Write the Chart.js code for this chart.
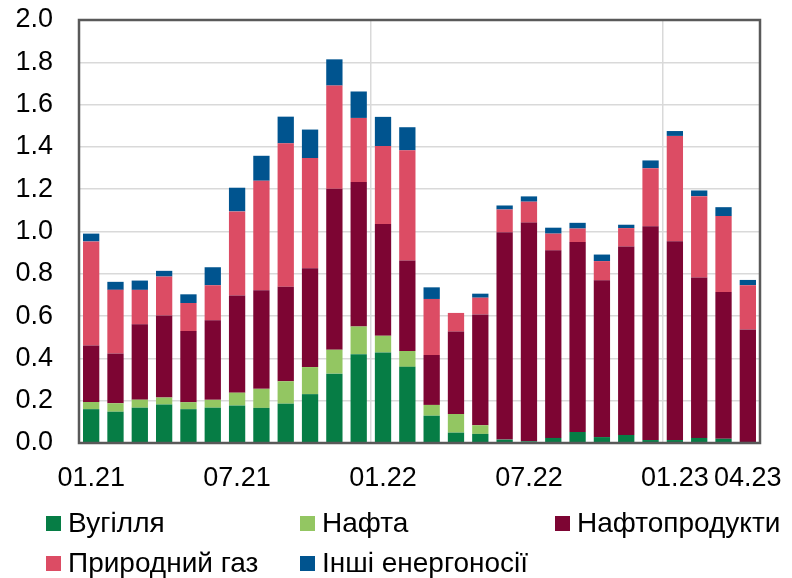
<!DOCTYPE html>
<html>
<head>
<meta charset="utf-8">
<script src="https://cdn.jsdelivr.net/npm/chart.js@4/dist/chart.umd.min.js"></script>
<style>
  body { margin: 0; background: #fff; }
  #wrap { position: relative; width: 792px; height: 578px; }
  .leg { position: absolute; display: flex; align-items: center; height: 30px;
         font-family: "Liberation Sans", Arial, sans-serif; font-size: 28px; color: #000; white-space: nowrap; }
  .leg span.box { display: inline-block; width: 15px; height: 15px; margin-right: 7px; }
</style>
</head>
<body>
<div id="wrap">
  <canvas id="chart" width="792" height="578"></canvas>
  <div id="legend"></div>
</div>
<script>
const months = [
  "01.21", "02.21", "03.21", "04.21", "05.21", "06.21", "07.21", "08.21", "09.21", "10.21", "11.21", "12.21",
  "01.22", "02.22", "03.22", "04.22", "05.22", "06.22", "07.22", "08.22", "09.22", "10.22", "11.22", "12.22",
  "01.23", "02.23", "03.23", "04.23"
];
const shownTicks = ["01.21", "07.21", "01.22", "07.22", "01.23", "04.23"];
const yearStarts = ["01.22", "01.23"];

const coal = [0.160, 0.148, 0.167, 0.182, 0.160, 0.167, 0.177, 0.166, 0.186, 0.231, 0.328, 0.420,
  0.428, 0.360, 0.129, 0.049, 0.043, 0.016, 0.008, 0.024, 0.052, 0.028, 0.038, 0.014,
  0.014, 0.024, 0.020, 0.005];
const oil = [0.034, 0.040, 0.038, 0.033, 0.033, 0.037, 0.061, 0.090, 0.106, 0.128, 0.113, 0.131,
  0.079, 0.075, 0.051, 0.088, 0.041, 0, 0, 0, 0, 0, 0, 0,
  0, 0, 0, 0];
const oilProducts = [0.267, 0.235, 0.356, 0.388, 0.336, 0.376, 0.459, 0.466, 0.447, 0.467, 0.761, 0.683,
  0.528, 0.428, 0.236, 0.390, 0.524, 0.981, 1.034, 0.887, 0.898, 0.741, 0.891, 1.011,
  0.940, 0.759, 0.694, 0.532];
const gas = [0.492, 0.301, 0.163, 0.184, 0.133, 0.166, 0.398, 0.518, 0.678, 0.521, 0.488, 0.303,
  0.369, 0.521, 0.265, 0.088, 0.079, 0.107, 0.099, 0.079, 0.064, 0.091, 0.087, 0.274,
  0.498, 0.384, 0.359, 0.209];
const other = [0.037, 0.038, 0.044, 0.027, 0.041, 0.085, 0.112, 0.118, 0.126, 0.135, 0.124, 0.125,
  0.138, 0.109, 0.055, 0, 0.019, 0.019, 0.025, 0.028, 0.027, 0.031, 0.016, 0.037,
  0.023, 0.027, 0.042, 0.025];

const seriesNames = ["Вугілля", "Нафта", "Нафтопродукти", "Природний газ", "Інші енергоносії"];
const seriesColors = ["#067d45", "#93c662", "#7d0533", "#dc4c64", "#00548f"];
const seriesData = [coal, oil, oilProducts, gas, other];

const FONT = "'Liberation Sans', Arial, sans-serif";
const GRID = "#d9d9d9";
const FRAME = "#595959";

const framePlugin = {
  id: "frame",
  afterDraw(chart) {
    const a = chart.chartArea;
    const ctx = chart.ctx;
    ctx.save();
    ctx.strokeStyle = FRAME;
    ctx.lineWidth = 2.5;
    ctx.strokeRect(a.left, a.top, a.right - a.left, a.bottom - a.top);
    ctx.restore();
  }
};

const config = {
  type: "bar",
  data: {
    labels: months,
    datasets: seriesNames.map((name, i) => ({
      label: name,
      data: seriesData[i],
      backgroundColor: seriesColors[i],
      borderWidth: 0,
      barPercentage: 0.67,
      categoryPercentage: 1.0
    }))
  },
  options: {
    responsive: false,
    animation: false,
    layout: { padding: { top: 20, right: 32, bottom: 75, left: 0 } },
    plugins: { legend: { display: false }, tooltip: { enabled: false } },
    scales: {
      x: {
        stacked: true,
        border: { display: false },
        grid: {
          offset: true,
          drawTicks: false,
          lineWidth: 1.5,
          color: (c) => (c.tick && yearStarts.includes(months[c.index]) ? GRID : "rgba(0,0,0,0)")
        },
        ticks: {
          autoSkip: false,
          maxRotation: 0,
          padding: 19,
          color: "#000",
          font: { family: FONT, size: 27 },
          callback: function(value) {
            const lab = this.getLabelForValue(value);
            return shownTicks.includes(lab) ? lab : "";
          }
        },
        afterFit: (scale) => {
          scale.height = 60;
          scale.paddingLeft = 0;
          scale.paddingRight = 0;
        }
      },
      y: {
        stacked: true,
        min: 0,
        max: 2.0,
        border: { display: false },
        grid: { drawTicks: false, color: GRID, lineWidth: 1.5 },
        ticks: {
          stepSize: 0.2,
          padding: 26,
          color: "#000",
          font: { family: FONT, size: 27 },
          callback: (v) => v.toFixed(1)
        },
        afterFit: (scale) => {
          scale.width = 79;
          scale.paddingTop = 0;
          scale.paddingBottom = 0;
        }
      }
    }
  },
  plugins: [framePlugin]
};

new Chart("chart", config);

// legend laid out as in the original: three columns, two rows
const legendPos = [[46, 508], [300, 508], [555, 508], [46, 548], [300, 548]];
const legend = document.getElementById("legend");
seriesNames.forEach((name, i) => {
  const item = document.createElement("div");
  item.className = "leg";
  item.style.left = legendPos[i][0] + "px";
  item.style.top = legendPos[i][1] + "px";
  item.innerHTML = '<span class="box" style="background:' + seriesColors[i] + '"></span>' + name;
  legend.appendChild(item);
});
</script>
</body>
</html>
